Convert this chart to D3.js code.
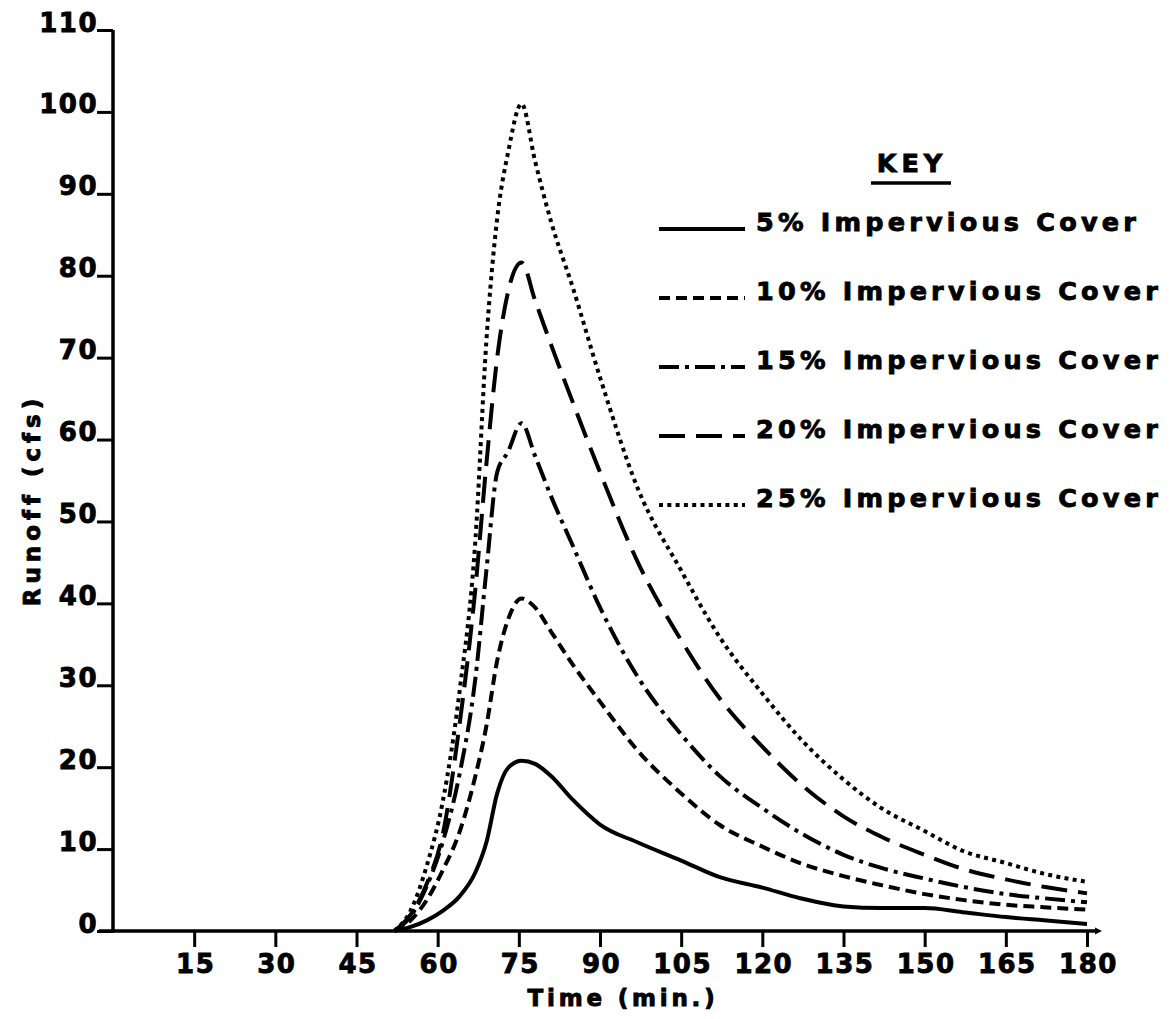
<!DOCTYPE html>
<head>
<meta charset="utf-8">
<script src="https://d3js.org/d3.v7.min.js"></script>
<style>
  body { margin: 0; background: #fff; }
  text { font-family: "DejaVu Sans", sans-serif; font-weight: 700; fill: #000; stroke: #000; stroke-width: 0.9px; }
  .tick text { font-size: 26px; letter-spacing: 1.5px; }
  .tick line { stroke: #000; stroke-width: 3px; }
  path.domain { display: none; }
  .axisLine { stroke: #000; stroke-width: 3.5px; }
  .legend text { font-size: 25.5px; letter-spacing: 4.2px; }
</style>
</head>
<body>
<script>
const width = 1170;
const height = 1019;

const times   = [52, 55, 58, 61, 64, 67, 69, 71, 73, 75.5, 78, 81, 85, 90, 97, 105, 112, 120, 127, 135, 142, 150, 157, 165, 172, 180];
const cover5  = [0, 0.5, 1.3, 2.5, 4.2, 7.2, 10.8, 16.8, 19.9, 20.8, 20.4, 18.9, 16, 13, 10.8, 8.6, 6.6, 5.3, 4.0, 3.0, 2.8, 2.8, 2.3, 1.7, 1.3, 0.85];
const cover10 = [0, 1.3, 3.8, 7.5, 12, 19, 25, 33, 38, 40.6, 39.5, 36.5, 32.5, 28, 22, 16.8, 13, 10.3, 8.3, 6.7, 5.6, 4.5, 3.8, 3.2, 2.9, 2.6];
const cover15 = [0, 1.8, 5.5, 11, 19, 31, 44, 56, 58.5, 62, 58, 53, 47, 39.5, 31, 24, 19, 15, 12, 9.3, 7.7, 6.4, 5.4, 4.5, 4, 3.5];
const cover20 = [0, 2, 5.8, 12, 25, 42, 57, 70, 78, 81.6, 77, 71.5, 64.5, 56, 45, 35.5, 28.5, 22.5, 18, 14, 11.5, 9.3, 7.6, 6.3, 5.4, 4.6];
const cover25 = [0, 2.5, 8, 16, 29, 48, 72, 87, 95, 101, 94, 86.5, 78.5, 67.6, 54, 44, 36, 29, 23.5, 18.5, 15, 12.2, 9.8, 8.3, 7, 6];

const seriesNames = ["5% Impervious Cover", "10% Impervious Cover", "15% Impervious Cover", "20% Impervious Cover", "25% Impervious Cover"];
const xTicks = [15, 30, 45, 60, 75, 90, 105, 120, 135, 150, 165, 180];
const yTicks = [0, 10, 20, 30, 40, 50, 60, 70, 80, 90, 100, 110];

const series = [cover5, cover10, cover15, cover20, cover25];
const dashes = [null, "11,6", "20,6,4,6", "26,11", "4,4.3"];
const widths = [4, 4, 4, 4, 4];

const svg = d3.select("body").append("svg")
   .attr("width", width)
   .attr("height", height);

const x = d3.scaleLinear().domain([0, 180]).range([113, 1087]);
const y = d3.scaleLinear().domain([0, 110]).range([931, 30]);

// axes
const yAxis = d3.axisLeft(y).tickValues(yTicks).tickSize(16).tickPadding(0);
svg.append("g")
   .attr("transform", `translate(${x(0)},0)`)
   .call(yAxis)
   .selectAll("text")
   .attr("dy", 1)
   .attr("x", -15);

const xAxis = d3.axisBottom(x).tickValues(xTicks).tickSize(16);
svg.append("g")
   .attr("transform", `translate(0,${y(0)})`)
   .call(xAxis)
   .selectAll("text")
   .attr("y", 42)
   .attr("dy", 0)
   .attr("dx", 1);

svg.append("line").attr("class", "axisLine")
   .attr("x1", x(0)).attr("x2", x(0))
   .attr("y1", y(0) + 1.5).attr("y2", y(110));
svg.append("line").attr("class", "axisLine")
   .attr("x1", x(0) - 14).attr("x2", x(180) + 10)
   .attr("y1", y(0)).attr("y2", y(0));
// little arrow tip at the end of the time axis
svg.append("path")
   .attr("d", d3.line()([[x(180) + 8, y(0) - 3.5], [x(180) + 15, y(0)], [x(180) + 8, y(0) + 3.5]]))
   .attr("fill", "#000");

// axis titles
svg.append("text")
   .attr("transform", `translate(40,500) rotate(-90)`)
   .attr("text-anchor", "middle")
   .style("font-size", "23px")
   .style("letter-spacing", "5px")
   .text("Runoff (cfs)");

svg.append("text")
   .attr("x", 623)
   .attr("y", 1006)
   .attr("text-anchor", "middle")
   .style("font-size", "23px")
   .style("letter-spacing", "3.8px")
   .text("Time (min.)");

// curves
const line = d3.line()
   .x((d, i) => x(times[i]))
   .y(d => y(d))
   .curve(d3.curveMonotoneX);

svg.append("g").selectAll("path")
   .data(series)
   .join("path")
   .attr("d", d => line(d))
   .attr("fill", "none")
   .attr("stroke", "#000")
   .attr("stroke-width", (d, i) => widths[i])
   .attr("stroke-dasharray", (d, i) => dashes[i]);

// key
const legend = svg.append("g").attr("class", "legend");

legend.append("text")
   .attr("x", 912)
   .attr("y", 172)
   .attr("text-anchor", "middle")
   .style("letter-spacing", "5px")
   .text("KEY");
legend.append("line")
   .attr("x1", 871).attr("x2", 951)
   .attr("y1", 183).attr("y2", 183)
   .attr("stroke", "#000").attr("stroke-width", 3.5);

const rowY = d3.scaleLinear().domain([0, 4]).range([231, 507]);

const rows = legend.selectAll("g.row")
   .data(seriesNames)
   .join("g")
   .attr("class", "row")
   .attr("transform", (d, i) => `translate(0,${rowY(i)})`);

rows.append("line")
   .attr("x1", 659).attr("x2", 745)
   .attr("y1", -2).attr("y2", -2)
   .attr("stroke", "#000")
   .attr("stroke-width", (d, i) => widths[i])
   .attr("stroke-dasharray", (d, i) => dashes[i]);

rows.append("text")
   .attr("x", 756)
   .attr("y", 0)
   .text(d => d);
</script>
</body>
